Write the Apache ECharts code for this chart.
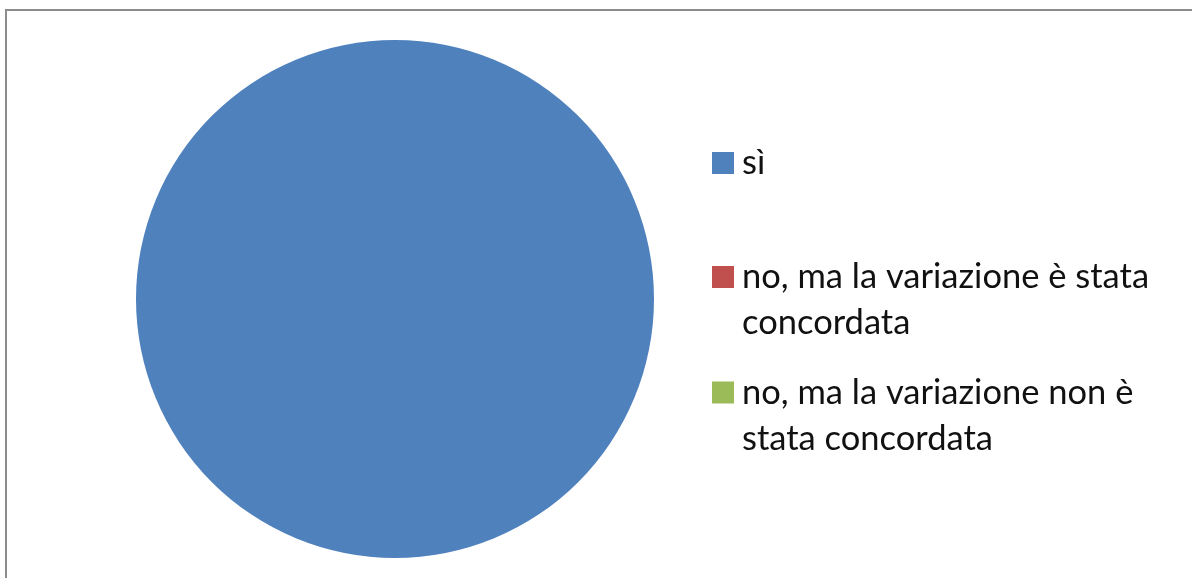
<!DOCTYPE html>
<html>
<head>
<meta charset="utf-8">
<script src="https://cdn.jsdelivr.net/npm/echarts@6/dist/echarts.min.js"></script>
<style>
  html, body { margin: 0; padding: 0; background: #fff; }
  #chart { position: absolute; left: 0; top: 0; width: 1192px; height: 578px; }
  #frame { position: absolute; left: 5px; top: 9px; width: 1200px; height: 600px;
           border-left: 2px solid #8c8c8c; border-top: 2px solid #8c8c8c; pointer-events: none; }
</style>
</head>
<body>
<div id="chart"></div>
<div id="frame"></div>
<script>
// Data
const categories = ['sì', 'no, ma la variazione è stata concordata', 'no, ma la variazione non è stata concordata'];
const legendLabels = ['sì', 'no, ma la variazione è stata\nconcordata', 'no, ma la variazione non è\nstata concordata'];
const values = [100, 0, 0];
const colors = ['#4F81BD', '#C0504D', '#9BBB59'];

const chart = echarts.init(document.getElementById('chart'));

const fontBase = { fontFamily: 'Lato', fontSize: 34.5, color: '#111', lineHeight: 46, padding: [0, 0, 0, 3] };
const legendTops = [140, 254, 369.5];

// square marker at the top of a taller box, so it lines up with the first text line
const tallIcon = 'path://M0,0H22V22H0Z M0,68H22';

const legends = categories.map((name, i) => {
  const multi = legendLabels[i].indexOf('\n') >= 0;
  return {
    orient: 'vertical',
    left: 712,
    top: legendTops[i],
    padding: 0,
    icon: multi ? tallIcon : 'rect',
    itemWidth: 22,
    itemHeight: multi ? 68 : 22,
    selectedMode: false,
    data: [name],
    formatter: () => legendLabels[i],
    textStyle: fontBase
  };
});

chart.setOption({
  animation: false,
  color: colors,
  legend: legends,
  series: [{
    type: 'pie',
    center: [395, 299],
    radius: 259,
    startAngle: 90,
    label: { show: false },
    labelLine: { show: false },
    itemStyle: { borderWidth: 0 },
    emphasis: { disabled: true },
    data: categories.map((name, i) => ({ name, value: values[i], itemStyle: { color: colors[i] } }))
  }]
});
</script>
</body>
</html>
